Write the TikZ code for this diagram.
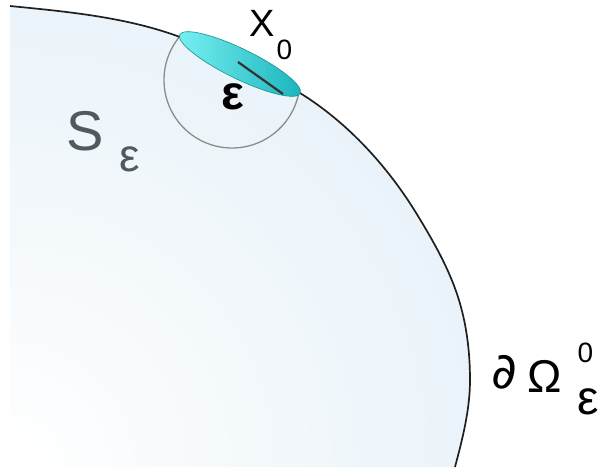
\documentclass[tikz,border=0pt]{standalone}
\usepackage{fontspec}
\setmainfont{Liberation Sans}
\newfontfamily\djv{DejaVu Sans}
\begin{document}
\begin{tikzpicture}[x=1pt,y=-1pt,
  bline/.style={draw=black!88, line width=1.7pt},
  cline/.style={draw=black!45, line width=1.3pt},
  lbl/.style={inner sep=0pt, anchor=center}]
\definecolor{dom}{RGB}{210,230,243}
\definecolor{cyL}{RGB}{120,240,242}
\definecolor{cyD}{RGB}{25,180,188}
\definecolor{sgray}{RGB}{80,88,96}
\useasboundingbox[fill=white] (0,0) rectangle (598,469);
\def\bndpath{(10,6) .. controls (67.4,11.7) and (125.9,17) .. (180,37)
  .. controls (221.3,52.3) and (262.6,69.8) .. (300,93)
  .. controls (348.3,122.9) and (388.6,167.4) .. (418,216)
  .. controls (433.6,241.7) and (448.8,268.4) .. (458,297)
  .. controls (466.6,323.7) and (470,352) .. (470,380)
  .. controls (470,409.4) and (462.6,438.6) .. (455,467)}
% domain fill
\begin{scope}
  \clip \bndpath -- (10,467) -- cycle;
  \shade[inner color=white, outer color=dom] (10,467) circle (1000);
  \draw[cline] (232,80) circle (68);
\end{scope}
% boundary
\draw[bline] \bndpath;
% lens
\shade[left color=cyL, right color=cyD, rotate around={-26:(240,64)}] (240,64) ellipse (67 and 15);
\draw[draw=cyD!80!black, line width=0.6pt, rotate around={-26:(240,64)}] (240,64) ellipse (67 and 15);
\coordinate (r1) at (238,62);
\coordinate (r2) at (283,94);
\draw[line width=2.2pt, draw=black!90!cyan] (r1) -- (r2);
% labels
\node[lbl, font=\fontsize{38}{38}\selectfont] (X) at (262.5,23.5) {X};
\node[lbl, font=\fontsize{28}{28}\selectfont] (X0) at (284.5,50) {0};
\node[lbl, font=\fontsize{48}{48}\selectfont\bfseries] (eps) at (232.5,96.5) {ε};
\node[lbl, text=sgray, font=\fontsize{56}{56}\selectfont] (S) at (85,131) {S};
\node[lbl, text=sgray, font=\fontsize{46}{46}\selectfont] (Se) at (130,159.5) {ε};
\node[lbl, font=\djv\fontsize{50}{50}\selectfont] (d) at (504,372) {∂};
\node[lbl, font=\fontsize{46}{46}\selectfont] (Om) at (544.5,376.5) {Ω};
\node[lbl, font=\fontsize{28}{28}\selectfont] (O0) at (585.5,353) {0};
\node[lbl, font=\fontsize{48}{48}\selectfont] (Oe) at (588,401.5) {ε};
\end{tikzpicture}
\end{document}
